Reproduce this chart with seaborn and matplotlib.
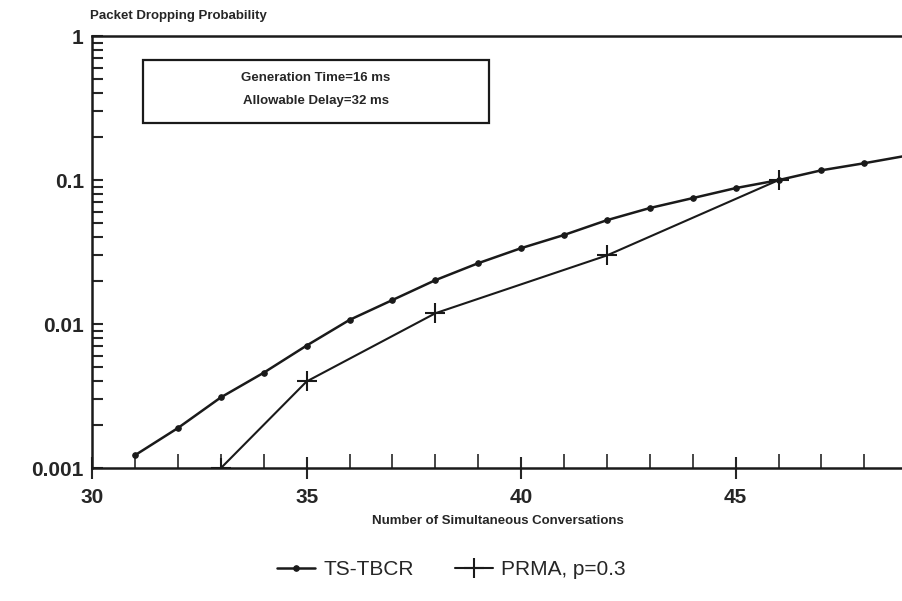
import numpy as np
import pandas as pd
import seaborn as sns
import matplotlib.pyplot as plt
from matplotlib.patches import Rectangle
from matplotlib.ticker import LogLocator, FixedLocator, NullFormatter

# data
ts_x = [31, 32, 33, 34, 35, 36, 37, 38, 39, 40, 41, 42, 43, 44, 45, 46, 47, 48, 49]
ts_y = [0.00123, 0.0019, 0.0031, 0.0046, 0.0071, 0.0107, 0.0147, 0.0202, 0.0265, 0.0337,
        0.0416, 0.0527, 0.064, 0.075, 0.088, 0.100, 0.117, 0.131, 0.148]
prma_x = [33, 35, 38, 42, 46]
prma_y = [0.001, 0.004, 0.0119, 0.030, 0.100]
y_ticks = [0.001, 0.01, 0.1, 1]
y_labels = ["0.001", "0.01", "0.1", "1"]
x_ticks = [30, 35, 40, 45]

sns.set_style("ticks")
plt.rcParams['font.family'] = ['Liberation Sans', 'DejaVu Sans']

ink = "#1a1a1a"
fig = plt.figure(figsize=(9.03, 6.01), dpi=100)
ax = fig.add_axes([0.102, 0.221, 0.898, 0.719])

ts = pd.DataFrame({"x": ts_x, "y": ts_y})
pr = pd.DataFrame({"x": prma_x, "y": prma_y})
sns.lineplot(data=ts, x="x", y="y", ax=ax, color=ink, lw=1.8,
             marker="o", markersize=4, markeredgecolor=ink, label="TS-TBCR")
sns.lineplot(data=pr, x="x", y="y", ax=ax, color=ink, lw=1.5,
             marker="+", markersize=14, markeredgewidth=1.5, markeredgecolor=ink,
             label="PRMA, p=0.3")

ax.set_yscale("log")
ax.set_ylim(0.001, 1)
ax.set_xlim(30, 48.9)
ax.set_yticks(y_ticks)
ax.set_yticklabels(y_labels, fontsize=15, fontweight="bold")
ax.yaxis.set_minor_locator(LogLocator(base=10, subs=np.arange(2, 10)))
ax.yaxis.set_minor_formatter(NullFormatter())
ax.set_xticks(x_ticks)
ax.set_xticklabels([str(t) for t in x_ticks], fontsize=15, fontweight="bold")
ax.xaxis.set_minor_locator(FixedLocator(range(31, 49)))
ax.tick_params(axis="y", which="both", direction="in", length=8, width=1.5, pad=6)
ax.tick_params(axis="x", which="major", direction="inout", length=16, width=1.5, pad=6)
ax.tick_params(axis="x", which="minor", direction="in", length=10, width=1.2)

ax.set_xlabel("Number of Simultaneous Conversations", fontsize=9.5, fontweight="heavy", labelpad=6)
ax.set_ylabel("")
for s in ["left", "top", "bottom"]:
    ax.spines[s].set_linewidth(1.8)
    ax.spines[s].set_color(ink)
ax.spines["right"].set_visible(False)

fig.text(0.1, 0.968, "Packet Dropping Probability", fontsize=9.5, fontweight="heavy", ha="left")

ax.add_patch(Rectangle((0.063, 0.799), 0.427, 0.145, transform=ax.transAxes,
                       fill=False, lw=1.6, ec=ink))
ax.text(0.276, 0.903, "Generation Time=16 ms", transform=ax.transAxes,
        ha="center", va="center", fontsize=9.5, fontweight="heavy")
ax.text(0.276, 0.850, "Allowable Delay=32 ms", transform=ax.transAxes,
        ha="center", va="center", fontsize=9.5, fontweight="heavy")

handles, labels = ax.get_legend_handles_labels()
ax.get_legend().remove()
fig.legend(handles, labels, loc="center", bbox_to_anchor=(0.5, 0.052), ncol=2,
           frameon=False, fontsize=15, handlelength=1.8, columnspacing=2.0, handletextpad=0.4)

fig.savefig("out.png", dpi=100)
